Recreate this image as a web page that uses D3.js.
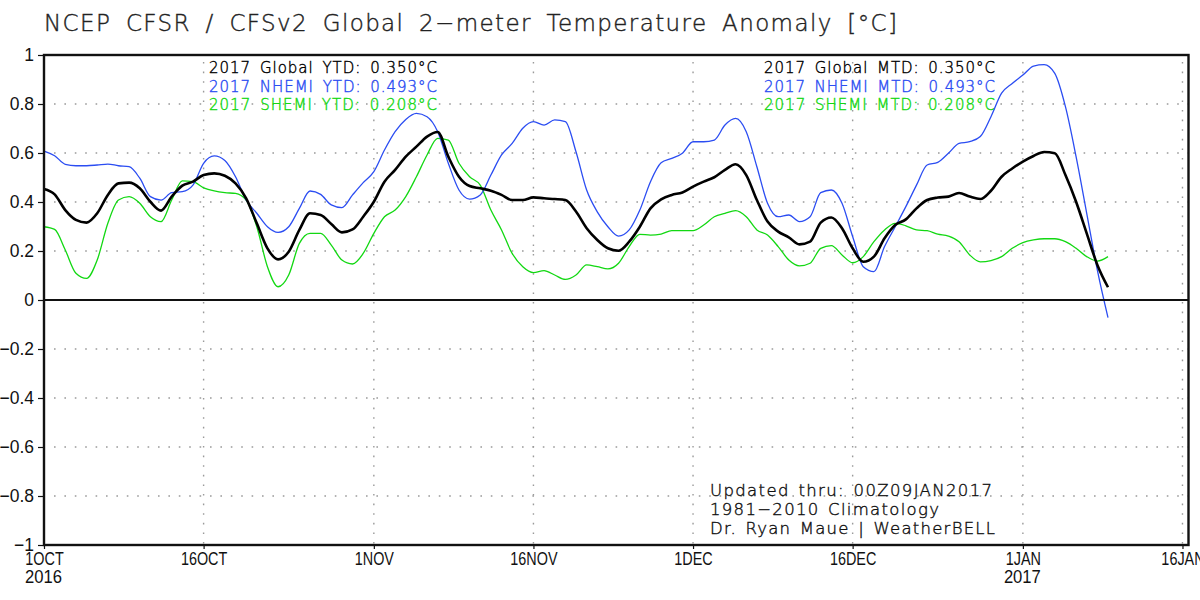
<!DOCTYPE html>
<html><head><meta charset="utf-8">
<script src="https://cdn.jsdelivr.net/npm/d3@7"></script>
<style>
html,body{margin:0;padding:0;background:#fff}
svg{display:block}
text{font-family:"Liberation Sans",Arial,sans-serif}
text.stroke{font-family:"DejaVu Sans",sans-serif;font-weight:200;stroke-width:.4px}
</style></head><body>
<svg id="c" width="1200" height="600"></svg>
<script>
const startDate = "2016-10-01";
const globalVals = [.453,.431,.367,.327,.316,.354,.429,.476,.479,.456,.401,.365,.422,.467,.483,.51,.517,.507,.476,.415,.313,.211,.166,.197,.286,.354,.347,.31,.276,.288,.34,.401,.483,.531,.585,.626,.667,.686,.585,.503,.465,.456,.446,.429,.408,.408,.419,.415,.412,.408,.361,.293,.245,.211,.201,.238,.299,.374,.411,.429,.439,.463,.483,.501,.531,.554,.51,.408,.32,.279,.256,.227,.238,.316,.337,.293,.211,.156,.177,.252,.306,.329,.374,.408,.418,.422,.437,.422,.412,.446,.503,.537,.565,.588,.604,.599,.51,.401,.272,.143,.052];
const nhemiVals = [.608,.589,.554,.548,.548,.551,.555,.548,.544,.497,.422,.408,.438,.442,.469,.558,.588,.569,.503,.408,.354,.299,.276,.299,.374,.445,.431,.388,.377,.429,.479,.524,.612,.687,.737,.762,.748,.687,.558,.449,.412,.429,.51,.592,.639,.701,.728,.714,.735,.728,.605,.449,.36,.299,.261,.286,.367,.483,.56,.578,.599,.646,.646,.653,.714,.741,.687,.544,.395,.34,.347,.32,.34,.438,.449,.395,.259,.136,.116,.218,.299,.381,.469,.551,.562,.599,.639,.646,.667,.748,.844,.884,.918,.955,.961,.925,.789,.585,.354,.122,-.072];
const shemiVals = [.299,.288,.204,.109,.088,.163,.313,.408,.422,.395,.34,.32,.408,.486,.483,.458,.445,.438,.435,.408,.299,.136,.054,.102,.231,.272,.272,.224,.163,.147,.19,.272,.34,.367,.422,.503,.592,.66,.653,.558,.503,.469,.367,.286,.19,.136,.112,.12,.102,.084,.102,.143,.136,.127,.15,.218,.268,.265,.269,.283,.283,.283,.306,.34,.354,.365,.34,.286,.265,.218,.163,.139,.15,.211,.222,.184,.152,.177,.238,.286,.313,.303,.286,.283,.269,.261,.238,.184,.156,.161,.177,.211,.234,.245,.25,.25,.238,.211,.177,.159,.177];
const yTicks = [1,.8,.6,.4,.2,0,-.2,-.4,-.6,-.8,-1];
const yTickLabels = ["1","0.8","0.6","0.4","0.2","0","\u22120.2","\u22120.4","\u22120.6","\u22120.8","\u22121"];
const xTickDates = ["2016-10-01","2016-10-16","2016-11-01","2016-11-16","2016-12-01","2016-12-16","2017-01-01","2017-01-16"];
const xTickLabels = ["1OCT","16OCT","1NOV","16NOV","1DEC","16DEC","1JAN","16JAN"];
const xYearDates = ["2016-10-01","2017-01-01"];
const xYearLabels = ["2016","2017"];
const titleText = "NCEP CFSR / CFSv2 Global 2\u2212meter Temperature Anomaly [\u00B0C]";
const ytdLines = ["2017 Global YTD: 0.350\u00B0C","2017 NHEMI YTD: 0.493\u00B0C","2017 SHEMI YTD: 0.208\u00B0C"];
const mtdLines = ["2017 Global MTD: 0.350\u00B0C","2017 NHEMI MTD: 0.493\u00B0C","2017 SHEMI MTD: 0.208\u00B0C"];
const noteLines = ["Updated thru: 00Z09JAN2017","1981\u22122010 Climatology","Dr. Ryan Maue | WeatherBELL"];
const BLACK="#000", BLUE="#2b4df2", GREEN="#12d812", INK="#111";

const svg = d3.select("#c");
const L=44,R=1188.5,T=55,B=545;
const parse = d3.utcParse("%Y-%m-%d");
const t0 = parse(startDate);
const dayMs = 864e5;
const x = d3.scaleUtc().domain([t0, new Date(t0.getTime()+ (R-L)/10.64*dayMs)]).range([L,R]);
const y = d3.scaleLinear().domain([-1,1]).range([B,T]);
const tickD = xTickDates.map(parse);

// grid
const grid = svg.append("g").attr("stroke","#9a9a9a").attr("stroke-width",1.4).attr("stroke-dasharray","1.6 8.8");
grid.selectAll("line.h").data(yTicks.filter(v=>v!==1&&v!==-1&&v!==0)).join("line").attr("class","h")
  .attr("x1",L+10).attr("x2",R).attr("y1",d=>y(d)).attr("y2",d=>y(d));
grid.selectAll("line.v").data(tickD.slice(1)).join("line").attr("class","v")
  .attr("x1",d=>x(d)).attr("x2",d=>x(d)).attr("y1",T+7).attr("y2",B)
  .attr("stroke-dasharray","1.6 8");

// axes
const yAxis = d3.axisLeft(y).tickValues(yTicks).tickSize(6).tickPadding(4)
  .tickFormat(d=>yTickLabels[yTicks.indexOf(d)]);
const gy = svg.append("g").attr("transform",`translate(${L},0)`).call(yAxis);
gy.select(".domain").remove();
gy.selectAll("line").attr("stroke",INK).attr("stroke-width",1.2);
gy.selectAll("text").attr("fill",INK).style("font-size","18px").attr("x",-10)
  .attr("textLength",function(){return this.getComputedTextLength()*0.97;}).attr("lengthAdjust","spacingAndGlyphs");

const xAxis = d3.axisBottom(x).tickValues(tickD).tickSize(4).tickPadding(2)
  .tickFormat((d,i)=>xTickLabels[i]);
const gx = svg.append("g").attr("transform",`translate(0,${B})`).call(xAxis);
gx.select(".domain").remove();
gx.selectAll("line").attr("stroke",INK).attr("stroke-width",1.2);
gx.selectAll("text").attr("fill",INK).style("font-size","18px").attr("y",7).attr("dy","0.71em")
  .attr("textLength",function(){return this.getComputedTextLength()*0.8;}).attr("lengthAdjust","spacingAndGlyphs");
svg.selectAll("text.yr").data(xYearDates.map(parse)).join("text").attr("class","yr")
  .attr("x",d=>x(d)-0.5).attr("y",583).attr("text-anchor","middle").attr("fill",INK)
  .style("font-size","18px").text((d,i)=>xYearLabels[i])
  .attr("textLength",37).attr("lengthAdjust","spacingAndGlyphs");

// text blocks
function block(lines,xp,ys,size,len,colors,ws){
  svg.selectAll(null).data(lines).join("text").attr("class","stroke").attr("x",xp).attr("y",(d,i)=>ys[i])
    .attr("fill",(d,i)=>colors[i]).attr("stroke",(d,i)=>colors[i]).style("font-size",size+"px").attr("lengthAdjust","spacing")
    .style("word-spacing",ws+"px").attr("textLength",(d,i)=>len[i]).text(d=>d);
}
block([titleText],44,[31],23,[853],["#222"],6);
const cols=[BLACK,BLUE,GREEN];
block(ytdLines,209,[73,92,110],15,[228,228,228],cols,3);
block(mtdLines,764,[73,92,110],15,[231,231,231],cols,3);
block(noteLines,710,[496,515,534],16.5,[282,229,285],[INK,INK,INK],2);

// lines
const line = d3.line().x((d,i)=>x(new Date(t0.getTime()+i*dayMs))).y(d=>y(d)).curve(d3.curveMonotoneX);
svg.append("path").attr("d",line(shemiVals)).attr("fill","none").attr("stroke",GREEN).attr("stroke-width",1.3);
svg.append("path").attr("d",line(nhemiVals)).attr("fill","none").attr("stroke",BLUE).attr("stroke-width",1.3);
svg.append("path").attr("d",line(globalVals)).attr("fill","none").attr("stroke",BLACK).attr("stroke-width",2.6);

// zero line and frame
svg.append("line").attr("x1",L).attr("x2",R).attr("y1",y(0)).attr("y2",y(0)).attr("stroke",INK).attr("stroke-width",2.2);
svg.append("rect").attr("x",L).attr("y",T).attr("width",R-L).attr("height",B-T)
  .attr("fill","none").attr("stroke",INK).attr("stroke-width",2.4);
</script>
</body></html>
